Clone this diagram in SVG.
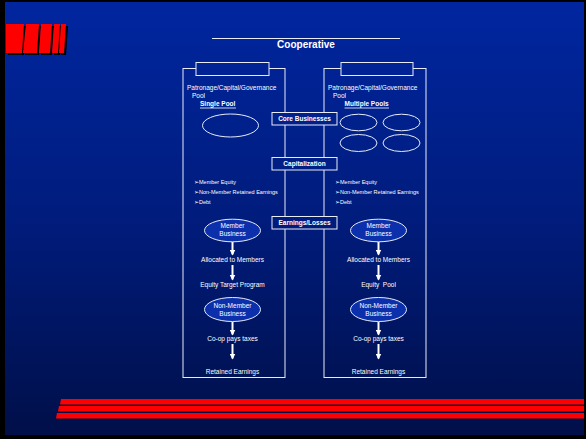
<svg xmlns="http://www.w3.org/2000/svg" width="586" height="439" viewBox="0 0 586 439">
<defs>
<linearGradient id="bg" gradientUnits="userSpaceOnUse" x1="0" y1="0" x2="0" y2="439">
<stop offset="0" stop-color="#0026a0"/>
<stop offset="0.5" stop-color="#001c7c"/>
<stop offset="1" stop-color="#000f48"/>
</linearGradient>
<marker id="ah" viewBox="0 0 6 6" refX="5" refY="3" markerWidth="6" markerHeight="6" markerUnits="userSpaceOnUse" orient="auto">
<path d="M0,0 L6,3 L0,6 Z" fill="#ffffff"/>
</marker>
</defs>
<style>
text{font-family:"Liberation Sans",Arial,sans-serif;fill:#ffffff}
.t{font-size:6.5px}
.b{font-size:6.5px;font-weight:bold}
.s{font-size:5.5px}
.c{text-anchor:middle}
.frame{fill:none;stroke:#e8ecf8;stroke-width:1}
.lbl{fill:url(#bg);stroke:#e8ecf8;stroke-width:1}
.pool{fill:none;stroke:#e8ecf8;stroke-width:1}
.biz{fill:#0c30ac;stroke:#e8ecf8;stroke-width:1}
.arr{stroke:#ffffff;stroke-width:2;fill:none;marker-end:url(#ah)}
.red{fill:#ff0000}
.sh{fill:#000000}
</style>
<rect x="0" y="0" width="586" height="439" fill="#000000"/>
<rect x="5" y="2" width="579" height="433" fill="url(#bg)"/>
<g id="logo">
<polygon class="sh" points="8,26 26,26 24,55 8,55"/>
<polygon class="sh" points="28,26 41,26 39,55 25,55"/>
<polygon class="sh" points="43,26 54,26 52,55 41,55"/>
<polygon class="sh" points="56,26 62,26 60,55 54,55"/>
<polygon class="sh" points="63,26 68,26 66,55 61,55"/>
<polygon class="red" points="6,24 24,24 22,53 6,53"/>
<polygon class="red" points="26,24 39,24 37,53 23,53"/>
<polygon class="red" points="41,24 52,24 50,53 39,53"/>
<polygon class="red" points="54,24 60,24 58,53 52,53"/>
<polygon class="red" points="61,24 66,24 64,53 59,53"/>
</g>
<g id="stripes">
<polygon class="red" points="61,399 584,399 584,404.5 60,404.5"/>
<polygon class="red" points="59,406 584,406 584,411.5 58,411.5"/>
<polygon class="red" points="57,413 584,413 584,418.5 56,418.5"/>
</g>
<g id="title">
<line x1="212" y1="38.5" x2="400" y2="38.5" stroke="#e8ecf8" stroke-width="1"/>
<text x="306" y="47.5" class="c" style="font-size:10px;font-weight:bold">Cooperative</text>
</g>
<g id="left-column">
<rect class="frame" x="183" y="68.5" width="102" height="309"/>
<rect class="lbl" x="196" y="62.5" width="73" height="13"/>
<text x="187" y="90" class="t">Patronage/Capital/Governance</text>
<text x="192" y="98" class="t">Pool</text>
<text x="200" y="106" class="b">Single Pool</text>
<line x1="200" y1="108" x2="236" y2="108" stroke="#ffffff" stroke-width="0.8"/>
<ellipse class="pool" cx="230.5" cy="125.5" rx="28" ry="11.5"/>
<text x="194" y="184" class="s">➢Member Equity</text>
<text x="194" y="194" class="s">➢Non-Member Retained Earnings</text>
<text x="194" y="204" class="s">➢Debt</text>
</g>
<g id="right-column">
<rect class="frame" x="324" y="68.5" width="102" height="309"/>
<rect class="lbl" x="341" y="62.5" width="72" height="13"/>
<text x="328" y="90" class="t">Patronage/Capital/Governance</text>
<text x="333" y="98" class="t">Pool</text>
<text x="344.5" y="106" class="b">Multiple Pools</text>
<line x1="344.5" y1="108" x2="389" y2="108" stroke="#ffffff" stroke-width="0.8"/>
<ellipse class="pool" cx="358.5" cy="122.5" rx="18.5" ry="8.3"/>
<ellipse class="pool" cx="401.5" cy="122.5" rx="18.5" ry="8.3"/>
<ellipse class="pool" cx="358.5" cy="143" rx="18.5" ry="8.5"/>
<ellipse class="pool" cx="401.5" cy="143" rx="18.5" ry="8.5"/>
<text x="335" y="184" class="s">➢Member Equity</text>
<text x="335" y="194" class="s">➢Non-Member Retained Earnings</text>
<text x="335" y="204" class="s">➢Debt</text>
</g>
<g id="core-businesses">
<rect class="lbl" x="272" y="112.5" width="65" height="12.5"/>
<text x="304.5" y="121.2" class="b c">Core Businesses</text>
</g>
<g id="capitalization">
<rect class="lbl" x="272" y="157.5" width="65" height="12.5"/>
<text x="304.5" y="166.2" class="b c">Capitalization</text>
</g>
<g id="earnings-losses">
<rect class="lbl" x="272" y="216.5" width="65" height="12.5"/>
<text x="304.5" y="225.2" class="b c">Earnings/Losses</text>
</g>
<g id="left-member">
<ellipse class="biz" cx="232.5" cy="230.5" rx="28" ry="11.3"/>
<text x="232.5" y="228.3" class="t c">Member</text>
<text x="232.5" y="236.3" class="t c">Business</text>
</g>
<g id="left-allocated"><text x="232.5" y="261.5" class="t c">Allocated to Members</text></g>
<g id="left-equity"><text x="232.5" y="287.3" class="t c">Equity Target Program</text></g>
<g id="left-nonmember">
<ellipse class="biz" cx="232.5" cy="309.5" rx="28" ry="12"/>
<text x="232.5" y="307.5" class="t c">Non-Member</text>
<text x="232.5" y="315.5" class="t c">Business</text>
</g>
<g id="left-taxes"><text x="232.5" y="340.5" class="t c">Co-op pays taxes</text></g>
<g id="left-retained"><text x="232.5" y="374" class="t c">Retained Earnings</text></g>
<g id="right-member">
<ellipse class="biz" cx="378.5" cy="230.5" rx="28" ry="11.3"/>
<text x="378.5" y="228.3" class="t c">Member</text>
<text x="378.5" y="236.3" class="t c">Business</text>
</g>
<g id="right-allocated"><text x="378.5" y="261.5" class="t c">Allocated to Members</text></g>
<g id="right-equity"><text x="378.5" y="287.3" class="t c" xml:space="preserve">Equity  Pool</text></g>
<g id="right-nonmember">
<ellipse class="biz" cx="378.5" cy="309.5" rx="28" ry="12"/>
<text x="378.5" y="307.5" class="t c">Non-Member</text>
<text x="378.5" y="315.5" class="t c">Business</text>
</g>
<g id="right-taxes"><text x="378.5" y="340.5" class="t c">Co-op pays taxes</text></g>
<g id="right-retained"><text x="378.5" y="374" class="t c">Retained Earnings</text></g>
<g id="connectors">
<line class="arr" x1="232.5" y1="242" x2="232.5" y2="254.5"/>
<line class="arr" x1="232.5" y1="265" x2="232.5" y2="279.5"/>
<line class="arr" x1="232.5" y1="322" x2="232.5" y2="334.5"/>
<line class="arr" x1="232.5" y1="344" x2="232.5" y2="358.5"/>
<line class="arr" x1="378.5" y1="242" x2="378.5" y2="254.5"/>
<line class="arr" x1="378.5" y1="265" x2="378.5" y2="279.5"/>
<line class="arr" x1="378.5" y1="322" x2="378.5" y2="334.5"/>
<line class="arr" x1="378.5" y1="344" x2="378.5" y2="358.5"/>
</g>
</svg>
